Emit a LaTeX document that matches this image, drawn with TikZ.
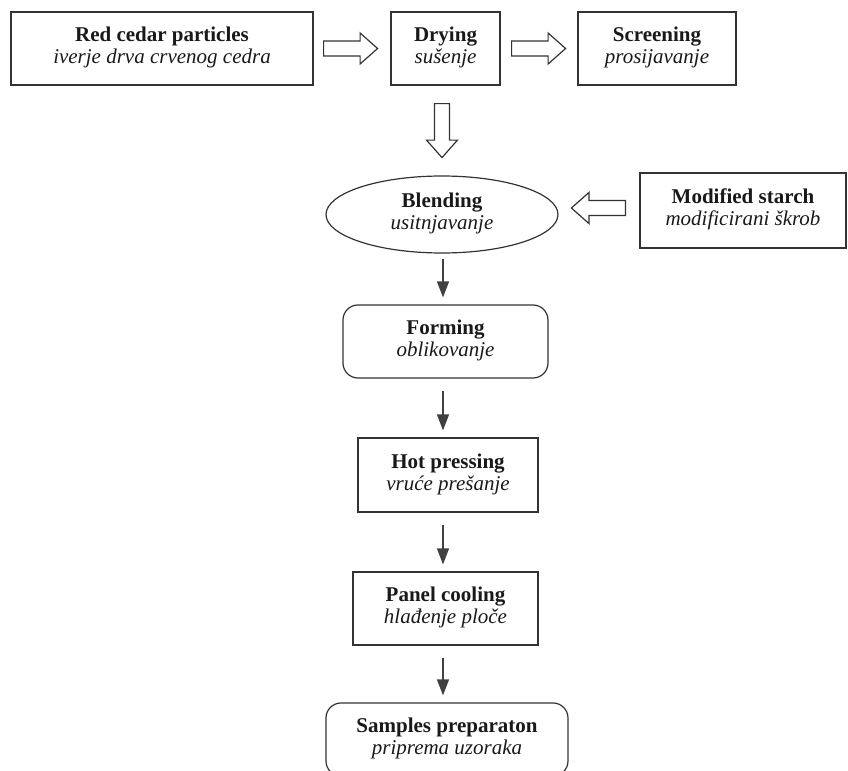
\documentclass[tikz,border=0pt]{standalone}
\usepackage{fontspec}
\setmainfont{Liberation Serif}
\usepackage{tikz}
\usetikzlibrary{arrows.meta,shapes.geometric}
\tikzset{>={Triangle[length=8pt,width=6pt]}}
\colorlet{linecol}{black!80}
\colorlet{textcol}{black!90}
\tikzstyle{stage}=[draw=linecol,line width=0.6pt,align=center,inner sep=2pt,
  font=\fontsize{10.5}{11}\selectfont,text=textcol]
\tikzstyle{stage round}=[stage,rounded corners=7.5pt]
\tikzstyle{stage oval}=[stage,ellipse]
\tikzstyle{flow}=[->,line width=0.6pt,black!75,shorten <=6pt,shorten >=3.5pt]
\tikzstyle{hollow}=[draw=linecol,fill=white,line width=0.6pt,line join=miter]
\newcommand{\duo}[2]{\strut\textbf{#1}\\\strut\textit{#2}}
% hollow block arrow: #1 tail point, #2 direction
\newcommand{\fatarrow}[2]{%
  \draw[hollow,shift={#1},rotate=#2]
    (0,-3.75pt) -- (18.25pt,-3.75pt) -- (18.25pt,-7.75pt) -- (27pt,0)
    -- (18.25pt,7.75pt) -- (18.25pt,3.75pt) -- (0,3.75pt) -- cycle;}

\begin{document}
\begin{tikzpicture}[x=0.5pt,y=-0.5pt]
  \useasboundingbox (0,0) rectangle (848,771);
  \coordinate (axis) at (443,0);

  % TOP ROW
  \node[stage,minimum width=151pt,minimum height=36.5pt] (raw) at (162,48.5)
    {\duo{Red cedar particles}{iverje drva crvenog cedra}};
  \node[stage,minimum width=54.5pt,minimum height=36.5pt] (dry) at (445.5,48.5)
    {\duo{Drying}{sušenje}};
  \node[stage,minimum width=79pt,minimum height=36.5pt] (screen) at (657,48.5)
    {\duo{Screening}{prosijavanje}};

  % BLENDING
  \node[stage oval,minimum width=116pt,minimum height=38.5pt] (blend) at (442,214.5)
    {\duo{Blending}{usitnjavanje}};
  \node[stage,minimum width=103pt,minimum height=37.5pt] (starch) at (743,210.5)
    {\duo{Modified starch}{modificirani škrob}};

  % MAIN LINE
  \node[stage round,minimum width=102.5pt,minimum height=36.5pt] (form) at (445.5,341.5)
    {\duo{Forming}{oblikovanje}};
  \node[stage,minimum width=90pt,minimum height=37pt] (press) at (448,475)
    {\duo{Hot pressing}{vruće prešanje}};
  \node[stage,minimum width=92.5pt,minimum height=36.5pt] (cool) at (445.5,608.5)
    {\duo{Panel cooling}{hlađenje ploče}};
  \node[stage round,minimum width=121pt,minimum height=36.5pt] (samp) at (447,739.5)
    {\duo{Samples preparaton}{priprema uzoraka}};

  % HOLLOW ARROWS
  \fatarrow{([xshift=5pt]raw.east)}{0}
  \fatarrow{([xshift=5.5pt]dry.east)}{0}
  \fatarrow{([xshift=-1.75pt,yshift=-9pt]dry.south)}{-90}
  \fatarrow{([xshift=-7pt,yshift=1.25pt]starch.west)}{180}

  % FLOW ARROWS
  \draw[flow,shorten <=2.5pt] (blend.south -| axis) -- (form.north -| axis);
  \draw[flow] (form.south -| axis) -- (press.north -| axis);
  \draw[flow] (press.south -| axis) -- (cool.north -| axis);
  \draw[flow] (cool.south -| axis) -- (samp.north -| axis);
\end{tikzpicture}
\end{document}
